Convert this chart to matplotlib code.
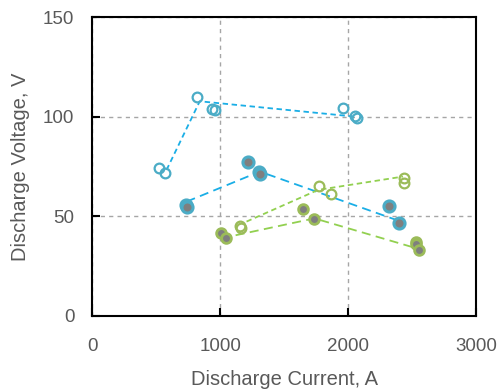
import matplotlib.pyplot as plt

plt.rcParams['font.family'] = ['Liberation Sans', 'DejaVu Sans']

# measured points, open markers (upper branch) and filled markers (lower branch)
blue_open_x = [521, 568, 820, 935, 961, 1961, 2052, 2068]
blue_open_y = [74.5, 72.0, 110.0, 104.0, 103.3, 104.6, 100.3, 99.3]
blue_fill_x = [735, 741, 1219, 1300, 1308, 2320, 2396]
blue_fill_y = [55.5, 54.5, 77.5, 72.2, 71.4, 55.2, 46.9]
green_open_x = [1155, 1162, 1773, 1865, 2438, 2438]
green_open_y = [45.0, 44.2, 65.3, 61.3, 69.5, 67.0]
green_fill_x = [1003, 1049, 1648, 1737, 2529, 2534, 2552]
green_fill_y = [41.5, 39.3, 53.7, 48.5, 37.3, 36.0, 33.1]

# trend lines
blue_open_line_x = [580, 840, 2052]
blue_open_line_y = [73.3, 107.8, 100.1]
blue_fill_line_x = [737, 1310, 2378]
blue_fill_line_y = [57.4, 72.5, 48.2]
green_open_line_x = [1206, 1766, 2430]
green_open_line_y = [47.4, 63.3, 70.0]
green_fill_line_x = [1010, 1737, 2534]
green_fill_line_y = [39.0, 49.0, 34.0]

blue_line = '#1aaee6'
green_line = '#92d050'
blue_mark = '#4bacc6'
green_mark = '#9bbb59'
gray = '#595959'

fig = plt.figure(figsize=(5.02, 3.92), dpi=100)
ax = fig.add_axes([0.184, 0.194, 0.764, 0.762])

ax.plot(blue_open_line_x, blue_open_line_y, color=blue_line, lw=1.3, dashes=(3, 2))
ax.plot(blue_fill_line_x, blue_fill_line_y, color=blue_line, lw=1.3, dashes=(5, 3))
ax.plot(green_open_line_x, green_open_line_y, color=green_line, lw=1.3, dashes=(3, 2))
ax.plot(green_fill_line_x, green_fill_line_y, color=green_line, lw=1.3, dashes=(5, 3))

ax.plot(blue_open_x, blue_open_y, 'o', ms=7, mfc='none', mec=blue_mark, mew=1.6)
ax.plot(green_open_x, green_open_y, 'o', ms=7, mfc='none', mec=green_mark, mew=1.6)
ax.plot(blue_fill_x, blue_fill_y, 'o', ms=8, mfc='#7f7f7f', mec=blue_mark, mew=2.2)
ax.plot(green_fill_x, green_fill_y, 'o', ms=7, mfc='#7f7f7f', mec=green_mark, mew=2.0)

ax.set_xlim(0, 3000)
ax.set_ylim(0, 150)
ax.set_xticks([0, 1000, 2000, 3000])
ax.set_yticks([0, 50, 100, 150])
ax.grid(True, color='#a6a6a6', linestyle=(0, (3, 3)), lw=1.0)
ax.set_axisbelow(True)
for s in ax.spines.values():
    s.set_linewidth(1.5)
ax.tick_params(direction='in', length=6, width=1.5, labelsize=13.5, labelcolor=gray)
ax.tick_params(axis='x', pad=16)
ax.tick_params(axis='y', pad=13)

ax.set_xlabel('Discharge Current, A', fontsize=14.5, color=gray, labelpad=11)
ax.set_ylabel('Discharge Voltage, V', fontsize=14.5, color=gray, labelpad=9)

plt.savefig('out.png', dpi=100)
